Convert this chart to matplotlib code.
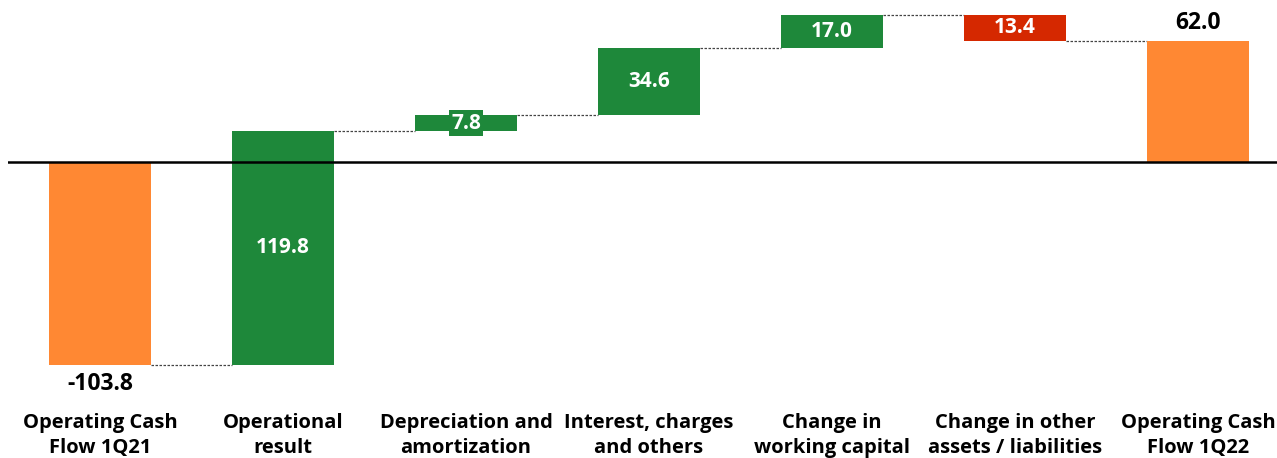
import matplotlib
matplotlib.use("Agg")
import matplotlib.pyplot as plt
import numpy as np

categories = ["Operating Cash\nFlow 1Q21", "Operational\nresult", "Depreciation and\namortization",
              "Interest, charges\nand others", "Change in\nworking capital",
              "Change in other\nassets / liabilities", "Operating Cash\nFlow 1Q22"]
values = [-103.8, 119.8, 7.8, 34.6, 17.0, -13.4, 62.0]
kinds = ["total", "delta", "delta", "delta", "delta", "delta", "total"]
labels = ["-103.8", "119.8", "7.8", "34.6", "17.0", "13.4", "62.0"]

ORANGE = "#FF8833"
GREEN = "#1E883A"
RED = "#D52800"

plt.rcParams['font.family'] = ['Open Sans', 'DejaVu Sans']

fig = plt.figure(figsize=(12.77, 4.58), dpi=100)
W, H = 1277, 458
px_per_unit = 1.956
zero_y = 162
top_px, bot_px = 10, 370
ymax = (zero_y - top_px) / px_per_unit
ymin = -(bot_px - zero_y) / px_per_unit
ax = fig.add_axes([8 / W, 1 - bot_px / H, 1 - 8 / W, (bot_px - top_px) / H])
spacing = 183.0
xl = (8 - 100) / spacing
xr = (W - 100) / spacing
ax.set_xlim(xl, xr)
ax.set_ylim(ymin, ymax)
ax.axis('off')

FW = "bold"

x = np.arange(len(values))
bw = 102 / spacing
bottoms, heights, colors, levels = [], [], [], []
run = 0.0
for v, k in zip(values, kinds):
    if k == "total":
        bottoms.append(0.0)
        heights.append(v)
        colors.append(ORANGE)
        run = v
    else:
        bottoms.append(run)
        heights.append(v)
        colors.append(GREEN if v >= 0 else RED)
        run = run + v
    levels.append(run)

ax.bar(x, heights, bottom=bottoms, width=bw, color=colors, zorder=2)
ax.axhline(0, color="black", lw=1.8, zorder=3)

for i in range(len(values) - 1):
    ax.plot([x[i] + bw / 2, x[i + 1] - bw / 2], [levels[i], levels[i]],
            ls=(0, (2, 1.2)), color="#444444", lw=0.9, zorder=1)

for i, (v, k) in enumerate(zip(values, kinds)):
    if k == "total":
        if v < 0:
            ax.text(x[i], v - 3.5, labels[i], ha="center", va="top", fontsize=16.5, color="black", fontweight=FW)
        else:
            ax.text(x[i], v + 3.0, labels[i], ha="center", va="bottom", fontsize=16.5, color="black", fontweight=FW)
    else:
        mid = bottoms[i] + heights[i] / 2
        kw = {}
        if abs(v) < 10:
            kw['bbox'] = dict(boxstyle="square,pad=0.12", fc=GREEN if v > 0 else RED, ec="none")
        ax.text(x[i], mid, labels[i], ha="center", va="center", fontsize=15, color="white",
                fontweight=FW, zorder=4, **kw)

for i, c in enumerate(categories):
    ax.text(x[i], -(435.5 - zero_y) / px_per_unit, c, ha="center", va="center", fontsize=14.5,
            color="black", fontweight=FW, linespacing=1.27, clip_on=False)

fig.savefig("out.png", dpi=100)
